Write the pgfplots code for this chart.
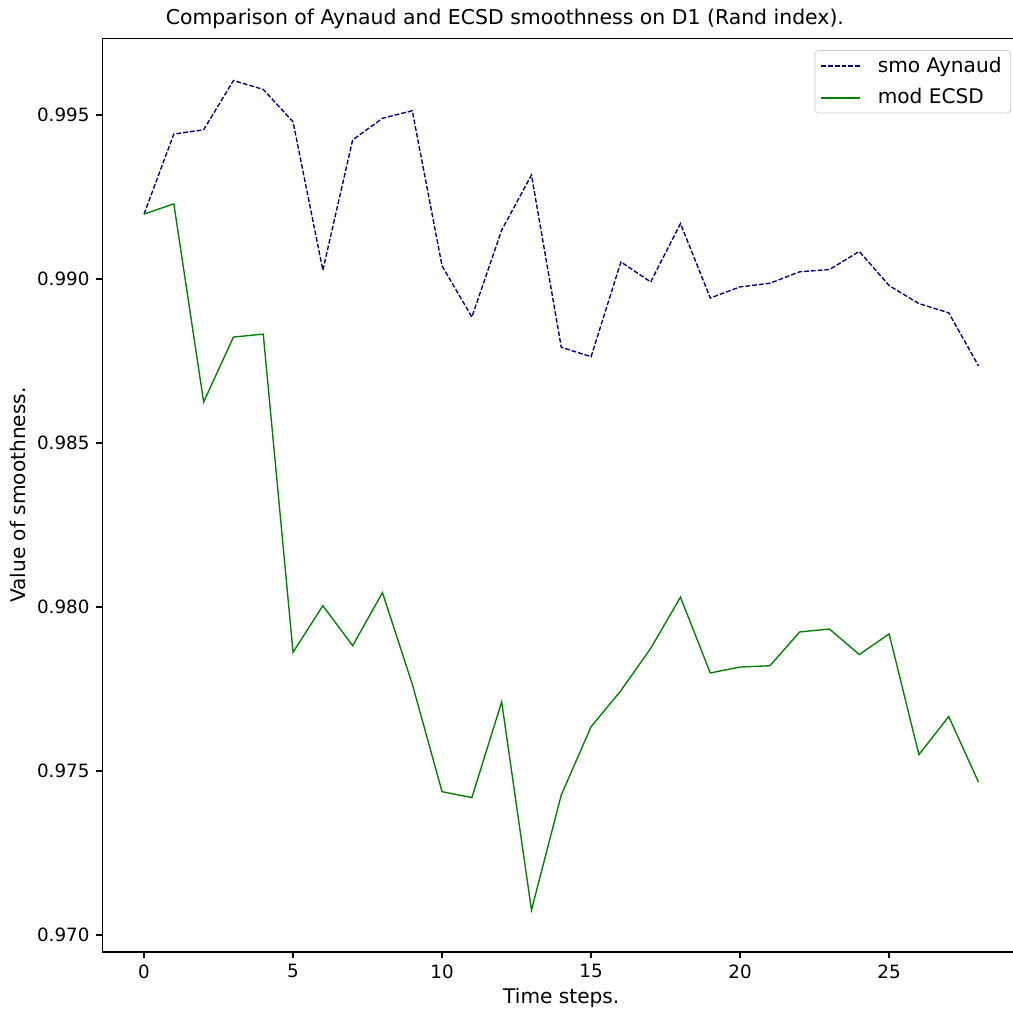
\documentclass[border=0pt]{standalone}
\usepackage{fontspec}
\setmainfont{DejaVu Sans}
\usepackage{pgfplots}
\pgfplotsset{compat=1.18}
\definecolor{mplnavy}{HTML}{000080}
\definecolor{mplgreen}{HTML}{008000}
\begin{document}
\begin{tikzpicture}
\begin{axis}[
  name=ax,
  scale only axis,
  width=501.5pt, height=499.1pt,
  xmin=-1.4, xmax=29.4,
  ymin=0.96949, ymax=0.99734,
  xtick={0,5,10,15,20,25},
  ytick={0.970,0.975,0.980,0.985,0.990,0.995},
  scaled y ticks=false,
  yticklabel style={/pgf/number format/.cd, fixed, fixed zerofill, precision=3},
  /pgf/number format/assume math mode=true,
  tick label style={font=\fontsize{10}{12}\selectfont},
  tick align=outside,
  tick pos=left,
  major tick length=3.5pt,
  tick style={black, line width=0.8pt},
  axis line style={line width=0.8pt},
  title={Comparison of Aynaud and ECSD smoothness on D1 (Rand index).},
  title style={at={(axis description cs:0.4385,1)}, anchor=base, yshift=1.4pt, font=\fontsize{11.15}{13}\selectfont},
  xlabel={Time steps.},
  xlabel style={at={(axis description cs:0.5,-0.0567)}, anchor=base, font=\fontsize{11}{13}\selectfont},
  ylabel={Value of smoothness.},
  ylabel style={at={(axis description cs:-0.0837,0.5)}, anchor=base, rotate=0, font=\fontsize{11}{13}\selectfont},
  legend style={at={(axis description cs:1,1)}, anchor=north east, xshift=-5pt, yshift=-6.5pt,
    draw=black!20, rounded corners=2pt, fill=white,
    font=\fontsize{11}{13}\selectfont, inner xsep=3pt, inner ysep=1.4pt, row sep=3.6pt,
    /tikz/every odd column/.append style={column sep=7.4pt}},
  legend cell align=left,
  legend image code/.code={\draw[#1, line width=0.9pt] (0pt,0pt) -- (21pt,0pt);},
]
\addplot[mplnavy, line width=0.75pt, dash pattern=on 2.6pt off 1.1pt] coordinates {
(0,0.99198) (1,0.99442) (2,0.99455) (3,0.99605) (4,0.99578) (5,0.99479)
(6,0.99027) (7,0.99424) (8,0.99490) (9,0.99513) (10,0.99040) (11,0.98884)
(12,0.99149) (13,0.99317) (14,0.98792) (15,0.98763) (16,0.99052) (17,0.98991)
(18,0.99169) (19,0.98942) (20,0.98976) (21,0.98987) (22,0.99022) (23,0.99029)
(24,0.99084) (25,0.98980) (26,0.98925) (27,0.98897) (28,0.98735)
};
\addlegendentry{smo Aynaud}
\addplot[mplgreen, line width=0.75pt] coordinates {
(0,0.99198) (1,0.99229) (2,0.98625) (3,0.98823) (4,0.98832) (5,0.97862)
(6,0.98004) (7,0.97882) (8,0.98044) (9,0.97765) (10,0.97437) (11,0.97419)
(12,0.97711) (13,0.97076) (14,0.97427) (15,0.97635) (16,0.97745) (17,0.97874)
(18,0.98030) (19,0.97799) (20,0.97817) (21,0.97821) (22,0.97924) (23,0.97933)
(24,0.97855) (25,0.97918) (26,0.97550) (27,0.97666) (28,0.97466)
};
\addlegendentry{mod ECSD}
\end{axis}
\pgfresetboundingbox
\path[use as bounding box] ([xshift=-55.9pt,yshift=-34.0pt]ax.south west) rectangle ([xshift=-4.4pt,yshift=20.9pt]ax.north east);
\end{tikzpicture}
\end{document}
